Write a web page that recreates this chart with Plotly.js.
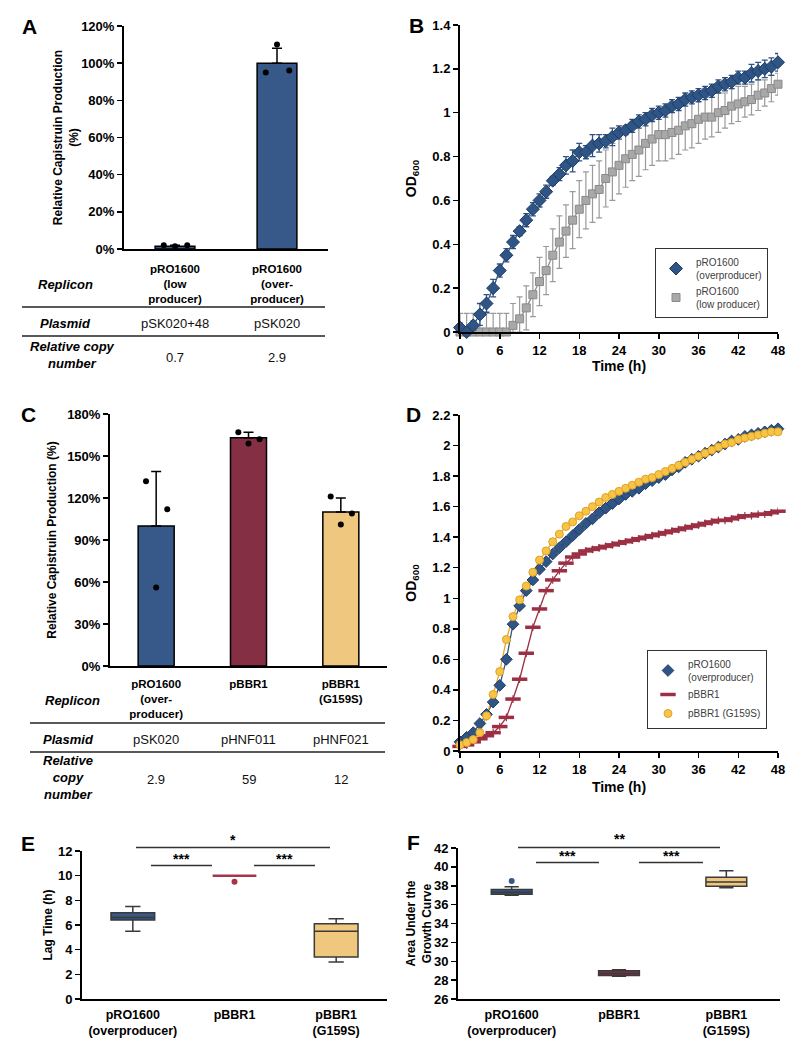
<!DOCTYPE html>
<html>
<head>
<meta charset="utf-8">
<script src="https://cdn.plot.ly/plotly-3.0.1.min.js"></script>
<style>
  body { margin: 0; background: #fff; }
  #myDiv { width: 804px; height: 1050px; }
</style>
</head>
<body>
<div id="myDiv"></div>
<script>
//---------------------- DATA ---------------------------
// panel A
var replicons_A = ['pRO1600<br>(low<br>producer)', 'pRO1600<br>(over-<br>producer)'];
var plasmids_A = ['pSK020+48', 'pSK020'];
var copies_A = ['0.7', '2.9'];
var prod_A = [1.5, 100];
var prod_A_err = [0.5, 8];
var reps_A = [[2, 1.5, 2], [95, 110, 96]];

// panel B
var hours = [0,1,2,3,4,5,6,7,8,9,10,11,12,13,14,15,16,17,18,19,20,21,22,23,24,
             25,26,27,28,29,30,31,32,33,34,35,36,37,38,39,40,41,42,43,44,45,46,47,48];
var od_over = [0.02,0,0.03,0.08,0.13,0.20,0.28,0.35,0.41,0.46,0.51,0.56,0.60,0.64,0.69,0.72,0.76,0.78,0.82,0.82,
               0.85,0.86,0.87,0.89,0.91,0.92,0.94,0.96,0.97,0.99,1.00,1.01,1.03,1.04,1.06,1.07,1.08,1.09,1.10,1.12,
               1.13,1.14,1.16,1.16,1.18,1.19,1.20,1.21,1.23];
var od_over_err = [0.02,0.02,0.02,0.05,0.04,0.04,0.03,0.03,0.03,0.02,0.03,0.03,0.03,0.03,0.02,0.03,0.04,0.05,0.04,0.03,
                   0.05,0.04,0.03,0.04,0.03,0.02,0.03,0.03,0.03,0.03,0.03,0.03,0.03,0.03,0.03,0.03,0.03,0.03,0.03,0.03,
                   0.03,0.03,0.03,0.03,0.04,0.04,0.04,0.04,0.04];
var od_low = [0,0,0,0,0,0,0,0,0.03,0.06,0.11,0.17,0.23,0.28,0.35,0.41,0.46,0.51,0.56,0.60,
              0.63,0.65,0.70,0.73,0.76,0.79,0.81,0.83,0.86,0.88,0.90,0.90,0.91,0.92,0.94,0.95,0.97,0.98,0.98,1.00,
              1.01,1.03,1.04,1.05,1.06,1.08,1.09,1.11,1.13];
var od_low_err = [0.085,0.085,0.085,0.085,0.085,0.085,0.085,0.085,0.10,0.10,0.10,0.10,0.11,0.11,0.12,0.12,0.12,0.13,0.13,0.13,
                  0.13,0.13,0.13,0.13,0.13,0.13,0.12,0.12,0.12,0.12,0.12,0.12,0.12,0.11,0.11,0.11,0.11,0.10,0.09,0.09,
                  0.08,0.08,0.08,0.07,0.07,0.07,0.06,0.06,0.05];

// panel C
var replicons_C = ['pRO1600<br>(over-<br>producer)', 'pBBR1', 'pBBR1<br>(G159S)'];
var plasmids_C = ['pSK020', 'pHNF011', 'pHNF021'];
var copies_C = ['2.9', '59', '12'];
var prod_C = [100, 163, 110];
var prod_C_err = [39, 4, 10];
var reps_C = [[132, 56, 112], [167, 159, 162], [121, 101, 109]];

// panel D
var od_d_over = [0.06,0.09,0.12,0.18,0.24,0.32,0.43,0.60,0.83,0.95,1.05,1.12,1.19,1.24,1.29,1.33,1.37,1.41,1.45,1.49,
                 1.52,1.56,1.59,1.62,1.65,1.68,1.70,1.72,1.75,1.77,1.79,1.81,1.84,1.86,1.89,1.91,1.93,1.95,1.97,1.99,
                 2.01,2.03,2.04,2.06,2.07,2.08,2.09,2.10,2.11];
var od_d_bbr1 = [0.03,0.04,0.06,0.08,0.10,0.12,0.16,0.22,0.34,0.47,0.64,0.81,0.93,1.05,1.12,1.18,1.23,1.27,1.29,1.31,
                 1.32,1.33,1.34,1.35,1.36,1.37,1.38,1.39,1.40,1.41,1.42,1.43,1.44,1.45,1.46,1.47,1.48,1.49,1.50,1.51,
                 1.51,1.52,1.53,1.54,1.54,1.55,1.55,1.56,1.57];
var od_d_g159s = [0.04,0.055,0.075,0.12,0.23,0.37,0.52,0.73,0.88,0.99,1.08,1.17,1.25,1.31,1.37,1.42,1.47,1.50,1.54,1.57,
                  1.60,1.63,1.66,1.68,1.70,1.72,1.74,1.76,1.78,1.79,1.81,1.83,1.85,1.87,1.89,1.91,1.93,1.95,1.97,1.99,
                  2.01,2.02,2.04,2.05,2.06,2.07,2.08,2.09,2.09];

// panels E and F (box statistics)
var strains = ['pRO1600<br>(overproducer)', 'pBBR1', 'pBBR1<br>(G159S)'];
var lag_min = [5.5, 10, 3.0];
var lag_q1 = [6.4, 10, 3.4];
var lag_med = [6.6, 10, 5.5];
var lag_q3 = [7.0, 10, 6.1];
var lag_max = [7.5, 10, 6.5];
var lag_outlier = [null, 9.5, null];
var auc_min = [37.0, 28.4, 37.8];
var auc_q1 = [37.1, 28.5, 37.95];
var auc_med = [37.3, 28.7, 38.4];
var auc_q3 = [37.6, 29.0, 38.9];
var auc_max = [37.9, 29.1, 39.6];
var auc_outlier = [38.5, null, null];

//---------------------- STYLE ---------------------------
var FONT = 'Liberation Sans, Arial, sans-serif';
var BLUE = '#36598a', MAROON = '#842f43', TAN = '#efc77f';
var jitter = [-0.11, 0, 0.12];

function px(x){ return x / 804; }
function py(y){ return 1 - y / 1050; }

var tickFont = {family: FONT, size: 13, color: '#000', weight: 'bold'};

function yAxis(anchor, top, bottom, range, dtick, title, standoff, suffix, tsize){
  return {
    anchor: anchor,
    domain: [py(bottom), py(top)],
    range: range,
    dtick: dtick,
    ticksuffix: suffix || '',
    showline: true, linecolor: '#000', linewidth: 2,
    ticks: 'outside', ticklen: 5, tickwidth: 1.5, tickcolor: '#000',
    showgrid: false, zeroline: false,
    tickfont: tickFont,
    title: {text: title, standoff: standoff,
            font: {family: FONT, size: tsize || 12, color: '#000', weight: 'bold'}}
  };
}

function catAxis(anchor, left, right, names, standoff, size){
  return {
    anchor: anchor,
    domain: [px(left), px(right)],
    range: [-0.5, names.length - 0.5],
    tickvals: names.map(function(n, i){ return i; }),
    ticktext: names,
    ticks: '',
    ticklabelstandoff: standoff,
    showline: true, linecolor: '#000', linewidth: 2,
    showgrid: false, zeroline: false,
    tickfont: {family: FONT, size: size, color: '#000', weight: 'bold'}
  };
}

function timeAxis(anchor, standoff){
  return {
    anchor: anchor,
    domain: [px(460), px(778)],
    range: [0, 48],
    dtick: 6,
    showline: true, linecolor: '#000', linewidth: 2,
    ticks: 'outside', ticklen: 5, tickwidth: 1.5, tickcolor: '#000',
    showgrid: false, zeroline: false,
    tickfont: tickFont,
    title: {text: 'Time (h)', standoff: standoff, font: {family: FONT, size: 14, color: '#000', weight: 'bold'}}
  };
}

//---------------------- BAR PANELS (A, C) ---------------------------
function barTraces(vals, errs, reps, colors, xa, ya){
  var bar = {
    type: 'bar',
    x: vals.map(function(v, i){ return i; }),
    y: vals,
    width: 0.39,
    marker: {color: colors, line: {color: '#000', width: 1.5}},
    error_y: {type: 'data', symmetric: false, array: errs, arrayminus: errs.map(function(){ return 0; }),
              color: '#000', thickness: 1.5, width: 5},
    xaxis: xa, yaxis: ya, showlegend: false, hoverinfo: 'y'
  };
  var dx = [], dy = [];
  reps.forEach(function(r, i){
    r.forEach(function(v, j){ dx.push(i + jitter[j]); dy.push(v); });
  });
  var dots = {
    type: 'scatter', mode: 'markers', x: dx, y: dy,
    marker: {color: '#000', size: 6},
    xaxis: xa, yaxis: ya, showlegend: false, cliponaxis: false
  };
  return [bar, dots];
}

var data = [];
data = data.concat(barTraces(prod_A, prod_A_err, reps_A, [BLUE, BLUE], 'x', 'y'));
data = data.concat(barTraces(prod_C, prod_C_err, reps_C, [BLUE, MAROON, TAN], 'x3', 'y3'));

//---------------------- GROWTH CURVES (B, D) ---------------------------
function minusErr(vals, errs){
  return errs.map(function(e, i){ return Math.min(e, vals[i]); });
}
// thin connecting line, kept out of the legend
function curve(y, color, xa, ya){
  return {type: 'scatter', mode: 'lines', x: hours, y: y, line: {color: color, width: 1.3},
          xaxis: xa, yaxis: ya, showlegend: false, hoverinfo: 'skip'};
}

// B
data.push(curve(od_low, '#8f8f8f', 'x2', 'y2'));
data.push(curve(od_over, '#2f5587', 'x2', 'y2'));
data.push({type: 'scatter', mode: 'markers', name: 'pRO1600<br>(low producer)', x: hours, y: od_low,
           marker: {symbol: 'square', size: 8, color: '#a8a8a8', line: {color: '#8a8a8a', width: 1}},
           error_y: {type: 'data', symmetric: false, array: od_low_err, arrayminus: minusErr(od_low, od_low_err),
                     color: '#9a9a9a', thickness: 1.2, width: 3},
           xaxis: 'x2', yaxis: 'y2', legend: 'legend', legendrank: 2, cliponaxis: false});
data.push({type: 'scatter', mode: 'markers', name: 'pRO1600<br>(overproducer)', x: hours, y: od_over,
           marker: {symbol: 'diamond', size: 10, color: '#2f5587', line: {color: '#1f3b63', width: 1}},
           error_y: {type: 'data', symmetric: false, array: od_over_err, arrayminus: minusErr(od_over, od_over_err),
                     color: '#2f5587', thickness: 1.3, width: 3},
           xaxis: 'x2', yaxis: 'y2', legend: 'legend', legendrank: 1, cliponaxis: false});

// D
data.push(curve(od_d_bbr1, '#9c2f44', 'x4', 'y4'));
data.push(curve(od_d_over, '#2f5587', 'x4', 'y4'));
data.push(curve(od_d_g159s, '#e3a72c', 'x4', 'y4'));
data.push({type: 'scatter', mode: 'markers', name: 'pBBR1', x: hours, y: od_d_bbr1,
           marker: {symbol: 'line-ew', size: 11, color: '#9c2f44', line: {color: '#9c2f44', width: 3.5}},
           error_y: {type: 'constant', value: 0.025, color: '#9c2f44', thickness: 1.2, width: 0},
           xaxis: 'x4', yaxis: 'y4', legend: 'legend2', legendrank: 2, cliponaxis: false});
data.push({type: 'scatter', mode: 'markers', name: 'pRO1600<br>(overproducer)', x: hours, y: od_d_over,
           marker: {symbol: 'diamond', size: 9, color: '#2f5587', line: {color: '#1f3b63', width: 1}},
           xaxis: 'x4', yaxis: 'y4', legend: 'legend2', legendrank: 1, cliponaxis: false});
data.push({type: 'scatter', mode: 'markers', name: 'pBBR1 (G159S)', x: hours, y: od_d_g159s,
           marker: {symbol: 'circle', size: 8, color: '#f7c544', line: {color: '#e39f2a', width: 1}},
           xaxis: 'x4', yaxis: 'y4', legend: 'legend2', legendrank: 3, cliponaxis: false});

//---------------------- BOX PANELS (E, F) ---------------------------
function boxTraces(mins, q1s, meds, q3s, maxs, outliers, fills, lines, xa, ya, width){
  var out = [];
  for (var i = 0; i < meds.length; i++){
    out.push({
      type: 'box', x: [i], q1: [q1s[i]], median: [meds[i]], q3: [q3s[i]],
      lowerfence: [mins[i]], upperfence: [maxs[i]],
      width: width, whiskerwidth: 0.35, boxpoints: false,
      fillcolor: fills[i], line: {color: lines[i], width: lines[i] === '#3a3a3a' ? 1.5 : 2.5},
      xaxis: xa, yaxis: ya, showlegend: false
    });
    if (outliers[i] !== null){
      out.push({type: 'scatter', mode: 'markers', x: [i], y: [outliers[i]],
                marker: {color: lines[i] === '#3a3a3a' ? fills[i] : lines[i], size: 6},
                xaxis: xa, yaxis: ya, showlegend: false, cliponaxis: false});
    }
  }
  return out;
}

data = data.concat(boxTraces(lag_min, lag_q1, lag_med, lag_q3, lag_max, lag_outlier,
  [BLUE, MAROON, TAN], ['#3a3a3a', '#a8344a', '#3a3a3a'], 'x5', 'y5', 0.43));
data = data.concat(boxTraces(auc_min, auc_q1, auc_med, auc_q3, auc_max, auc_outlier,
  [BLUE, MAROON, TAN], ['#3a3a3a', '#3a3a3a', '#3a3a3a'], 'x6', 'y6', 0.38));

//---------------------- TABLES, LETTERS, SIGNIFICANCE ---------------------------
var annotations = [];
var shapes = [];

function text(x, y, t, font, xref){
  annotations.push({x: xref ? x : px(x), y: py(y), xref: xref || 'paper', yref: 'paper',
                    text: t, showarrow: false, xanchor: 'center', yanchor: 'middle', font: font});
}
function hline(x0, x1, y, w, c){
  shapes.push({type: 'line', xref: 'paper', yref: 'paper', x0: px(x0), x1: px(x1), y0: py(y), y1: py(y),
               line: {color: c || '#222', width: w || 1.5}});
}

var letterFont = {family: FONT, size: 21, color: '#000', weight: 'bold'};
var rowFont = {family: FONT, size: 13, color: '#000', weight: 'bold', style: 'italic'};
var cellFont = {family: FONT, size: 13, color: '#111'};
var starFont = {family: FONT, size: 14, color: '#000', weight: 'bold'};

text(30, 27, 'A', letterFont);
text(416, 25, 'B', letterFont);
text(28, 415, 'C', letterFont);
text(413, 415, 'D', letterFont);
text(28, 843, 'E', letterFont);
text(413, 842, 'F', letterFont);

// table under A
text(65, 285, 'Replicon', rowFont);
hline(22, 325, 307);
text(65, 323, 'Plasmid', rowFont);
plasmids_A.forEach(function(p, i){ text(i, 323, p, cellFont, 'x'); });
hline(22, 325, 336);
text(72, 355, 'Relative copy<br>number', rowFont);
copies_A.forEach(function(c, i){ text(i, 358, c, cellFont, 'x'); });

// table under C
text(72, 700, 'Replicon', rowFont);
hline(30, 385, 723);
text(68, 739, 'Plasmid', rowFont);
plasmids_C.forEach(function(p, i){ text(i, 739, p, cellFont, 'x3'); });
hline(30, 385, 752);
text(68, 777, 'Relative<br>copy<br>number', rowFont);
copies_C.forEach(function(c, i){ text(i, 779, c, cellFont, 'x3'); });

// significance bars E
hline(136, 330, 847.5, 1.3, '#333');
text(233, 840, '*', starFont);
hline(151, 212, 865.5, 1.3, '#333');
text(181, 859, '***', starFont);
hline(254, 315, 865.5, 1.3, '#333');
text(284, 859, '***', starFont);

// significance bars F
hline(518, 720, 847.5, 1.3, '#333');
text(619, 839, '**', starFont);
hline(536, 599, 862.5, 1.3, '#333');
text(567, 856, '***', starFont);
hline(639, 703, 862.5, 1.3, '#333');
text(671, 856, '***', starFont);

//---------------------- LAYOUT ---------------------------
var legendStyle = function(x, y){
  return {x: px(x), y: py(y), xanchor: 'left', yanchor: 'top', xref: 'paper', yref: 'paper',
          bgcolor: '#fff', bordercolor: '#333', borderwidth: 1,
          font: {family: FONT, size: 10, color: '#404040'}, tracegroupgap: 4, itemwidth: 30};
};

var layout = {
  width: 804, height: 1050,
  margin: {l: 0, r: 0, t: 0, b: 0},
  paper_bgcolor: '#fff', plot_bgcolor: 'rgba(0,0,0,0)',
  font: {family: FONT, color: '#000'},
  xaxis: catAxis('y', 124, 328, replicons_A, 8, 11.5),
  yaxis: yAxis('x', 26, 249, [0, 120], 20, 'Relative Capistruin Production<br>(%)', 0, '%'),
  xaxis2: timeAxis('y2', 5),
  yaxis2: yAxis('x2', 25, 332, [0, 1.4], 0.2, 'OD<sub>600</sub>', 12, '', 14),
  xaxis3: catAxis('y3', 110, 387, replicons_C, 6, 11.5),
  yaxis3: yAxis('x3', 414, 666, [0, 180], 30, 'Relative Capistruin Production (%)', 8, '%'),
  xaxis4: timeAxis('y4', 7),
  yaxis4: yAxis('x4', 415, 751, [0, 2.2], 0.2, 'OD<sub>600</sub>', 12, '', 14),
  xaxis5: catAxis('y5', 82, 387, strains, 3, 12.5),
  yaxis5: yAxis('x5', 851, 999, [0, 12], 2, 'Lag Time (h)', 3),
  xaxis6: catAxis('y6', 458, 780, strains, 3, 12.5),
  yaxis6: yAxis('x6', 848, 999, [26, 42], 2, 'Area Under the<br>Growth Curve', 0),
  legend: legendStyle(655, 248),
  legend2: legendStyle(647, 650),
  annotations: annotations,
  shapes: shapes,
  showlegend: true
};

Plotly.newPlot('myDiv', data, layout, {staticPlot: true});
</script>
</body>
</html>
